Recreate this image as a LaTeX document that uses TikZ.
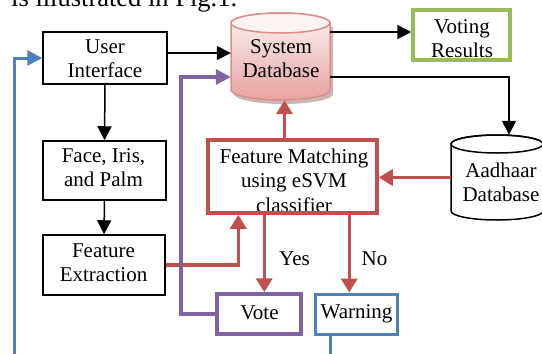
\documentclass[tikz,border=0pt]{standalone}
\usepackage{fontspec}
\setmainfont{Liberation Serif}
\usetikzlibrary{arrows.meta,calc}
\definecolor{cred}{HTML}{C0504D}
\definecolor{cpurple}{HTML}{8064A2}
\definecolor{cblue}{HTML}{4F81BD}
\definecolor{cgreen}{HTML}{9BBB59}
\definecolor{dbtop}{HTML}{FDF3F3}
\definecolor{dbbot}{HTML}{E6A3A2}
\definecolor{dbline}{HTML}{D98E8D}
\definecolor{dbshadow}{HTML}{A98584}
\newcommand\lns[1]{\begin{tabular}[t]{@{}c@{}}#1\end{tabular}}
\begin{document}
\begin{tikzpicture}[x=1pt,y=-1pt,
  every node/.style={font=\fontsize{21}{24.5}\selectfont, inner sep=0pt},
  txt/.style={anchor=base},
  bbox/.style={draw=black, line width=1.5pt},
  blk/.style={draw=black, line width=1.5pt, -{Triangle[length=14pt,width=14pt]}},
  redarr/.style={draw=cred, line width=3.5pt, -{Triangle[length=14pt,width=16pt]}},
  purarr/.style={draw=cpurple, line width=3.5pt, -{Triangle[length=15pt,width=15pt]}},
  bluarr/.style={draw=cblue, line width=3pt, -{Triangle[length=15pt,width=15pt]}},
  bluline/.style={draw=cblue, line width=3pt}]
\useasboundingbox (0,0) rectangle (542,354);
\clip (0,0) rectangle (542,354);

% header text (cut off at top, as in the reference)
\node[anchor=base west, font=\fontsize{26.5}{30}\selectfont] (hdr) at (11,6.5) {is illustrated in Fig.1.};

% System Database cylinder
\begin{scope}[shift={(3,4)}]
\fill[dbshadow, opacity=0.6] (231,23) -- (231,90) arc[start angle=180,end angle=360,x radius=49.5pt,y radius=10pt] -- (330,23) -- cycle;
\end{scope}
\shadedraw[top color=dbtop,bottom color=dbbot,draw=dbline,line width=1.5pt] (231,23) -- (231,90) arc[start angle=180,end angle=360,x radius=49.5pt,y radius=10pt] -- (330,23) arc[start angle=0,end angle=180,x radius=49.5pt,y radius=10pt] -- cycle;
\filldraw[fill=dbtop, draw=dbline, line width=1.5pt] (280.5,23) ellipse[x radius=49.5pt,y radius=10pt];
\node[minimum width=99pt,minimum height=87pt] (sysdb) at (280.5,56.5) {};
\node[txt] (sysdbt) at (281,53) {\lns{System\\Database}};

% Aadhaar Database cylinder
\filldraw[fill=white,draw=black,line width=1.5pt] (451,144) -- (451,211) arc[start angle=180,end angle=360,x radius=46pt,y radius=9pt] -- (543,144) arc[start angle=0,end angle=180,x radius=46pt,y radius=9pt] -- cycle;
\draw[black,line width=1.5pt] (497,144) ellipse[x radius=46pt,y radius=9pt];
\node[minimum width=92pt,minimum height=85pt] (aad) at (497,177.5) {};
\node[txt] (aadt) at (501,177) {\lns{Aadhaar\\Database}};

% boxes
\node[bbox, minimum width=124pt, minimum height=52pt] (ui) at (105,58) {};
\node[txt] (uit) at (105,53) {\lns{User\\Interface}};
\node[bbox, minimum width=123pt, minimum height=59pt] (face) at (104.5,170.5) {};
\node[txt] (facet) at (103.5,162) {\lns{Face, Iris,\\and Palm}};
\node[bbox, minimum width=122pt, minimum height=60pt] (fe) at (104,265) {};
\node[txt] (fet) at (103.5,257) {\lns{Feature\\Extraction}};
\node[txt] (fmt) at (294,163) {\lns{Feature Matching\\using eSVM\\classifier}};
\node[draw=cred, line width=3.5pt, minimum width=169pt, minimum height=73pt] (fm) at (292.5,176.5) {};
\node[draw=cpurple, line width=3.5pt, minimum width=84pt, minimum height=40pt] (vote) at (259,314) {};
\node[txt] (votet) at (259.5,319) {Vote};
\node[draw=cblue, line width=3pt, minimum width=82pt, minimum height=40pt] (warn) at (356,314) {};
\node[txt] (warnt) at (356.5,318) {Warning};
\node[txt] (vrt) at (462,33) {\lns{Voting\\Results}};
\node[draw=cgreen, line width=3.5pt, minimum width=97pt, minimum height=50pt] (vr) at (461.5,35) {};
\node[txt] (yes) at (294.5,265) {Yes};
\node[txt] (no) at (374.5,265) {No};

% connectors
\coordinate (uiout) at ([yshift=5pt]ui.east);
\draw[blk] (uiout) -- (uiout -| sysdb.west);
\draw[blk] (ui.south) -- (face.north);
\draw[blk] (face.south) -- (fe.north);
\coordinate (vrin) at ([yshift=3pt]vr.west);
\draw[blk] (vrin -| sysdb.east) -- (vrin);
\coordinate (sdout) at ([yshift=-20.5pt]sysdb.east);
\coordinate (aadin) at ([xshift=12pt]aad.north);
\draw[blk] (sdout) -| (aadin);

\coordinate (fmin) at ([xshift=32pt]fm.south west);
\draw[redarr] (fe.east) -| (fmin);
\coordinate (fmout) at ([xshift=-8pt]fm.north);
\draw[redarr] (fmout) -- (fmout |- sysdb.south);
\draw[redarr] (aad.west) -- (aad.west -| fm.east);
\coordinate (fv) at ([xshift=58pt]fm.south west);
\draw[redarr] (fv) -- (fv |- vote.north);
\coordinate (fw) at ([xshift=143pt]fm.south west);
\draw[redarr] (fw) -- (fw |- warn.north);

\coordinate (pturn) at (181,77);
\draw[purarr] (vote.west) -| (pturn) -- (pturn -| sysdb.west);

\coordinate (bl) at (14,358);
\draw[bluarr] (bl) |- (ui.west);
\coordinate (wb) at (330,358);
\draw[bluline] (wb |- warn.south) -- (wb);
\end{tikzpicture}
\end{document}
